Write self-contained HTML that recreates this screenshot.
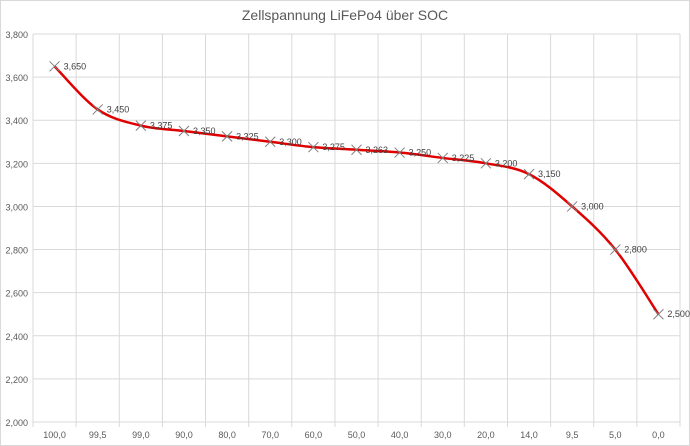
<!DOCTYPE html>
<html><head><meta charset="utf-8"><style>
body{margin:0;background:#fff}
svg{display:block;font-family:"Liberation Sans",Calibri,sans-serif}
</style></head><body>
<svg id="s" width="690" height="446" xmlns="http://www.w3.org/2000/svg">
<rect x="0.5" y="0.5" width="689" height="445" fill="#fff" stroke="#d9d9d9"/>
<text x="345" y="20" font-size="14" text-anchor="middle" fill="#595959">Zellspannung LiFePo4 über SOC</text>
<g id="g"></g>
</svg>
<script>
var g=document.getElementById('g'),h='';
var L=33,R=680,T=34,B=422,n=15,w=(R-L)/n;
for(var i=0;i<=9;i++){var y=T+(B-T)*i/9;h+='<line x1="'+L+'" x2="'+R+'" y1="'+y+'" y2="'+y+'" stroke="#d9d9d9"/>';
var v=(3.8-0.2*i).toFixed(3).replace('.',',');h+='<text x="28" y="'+(y+4)+'" font-size="9" text-anchor="end" fill="#595959">'+v+'</text>';}
for(var i=0;i<=n;i++){var x=L+w*i;h+='<line x1="'+x+'" x2="'+x+'" y1="'+T+'" y2="'+(B+5)+'" stroke="#d9d9d9"/>';}
var cats=['100,0','99,5','99,0','90,0','80,0','70,0','60,0','50,0','40,0','30,0','20,0','14,0','9,5','5,0','0,0'];
var d=[3.650,3.450,3.375,3.350,3.325,3.300,3.275,3.263,3.250,3.225,3.200,3.150,3.000,2.800,2.500];
var P=[];
for(var i=0;i<n;i++){var x=L+w*(i+0.5),y=B-(d[i]-2)*(B-T)/1.8;P.push([x,y]);
h+='<text x="'+x+'" y="438" font-size="9" text-anchor="middle" fill="#595959">'+cats[i]+'</text>';}
var p='M'+P[0][0]+','+P[0][1];
for(var i=0;i<n-1;i++){var p0=P[Math.max(0,i-1)],p1=P[i],p2=P[i+1],p3=P[Math.min(n-1,i+2)],t=1/6;
p+=' C'+(p1[0]+(p2[0]-p0[0])*t)+','+(p1[1]+(p2[1]-p0[1])*t)+' '+(p2[0]-(p3[0]-p1[0])*t)+','+(p2[1]-(p3[1]-p1[1])*t)+' '+p2[0]+','+p2[1];}
h+='<path d="'+p+'" fill="none" stroke="#e00000" stroke-width="2.5"/>';
for(var i=0;i<n;i++){var x=P[i][0],y=P[i][1];
h+='<path d="M'+(x-5)+','+(y-5)+'L'+(x+5)+','+(y+5)+'M'+(x-5)+','+(y+5)+'L'+(x+5)+','+(y-5)+'" stroke="#7f7f7f" stroke-width="1"/>';
h+='<text x="'+(x+9)+'" y="'+(y+3)+'" font-size="9" fill="#404040">'+d[i].toFixed(3).replace('.',',')+'</text>';}
g.innerHTML=h;
</script>
</body></html>
